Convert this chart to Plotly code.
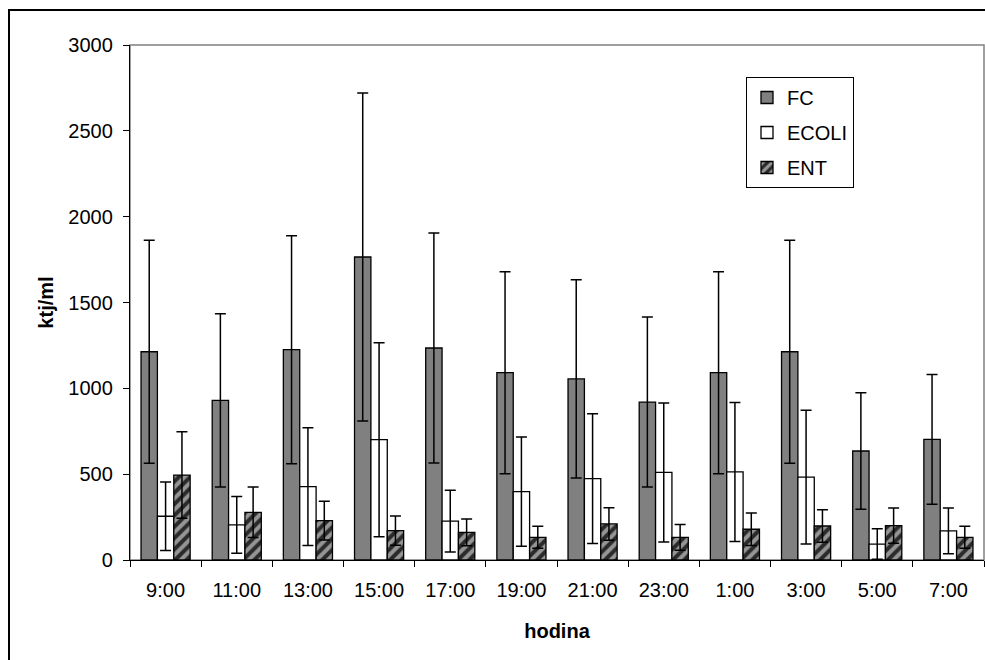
import plotly.graph_objects as go

# Sampling times and mean counts (ktj/ml) with standard deviations
hours = ["9:00", "11:00", "13:00", "15:00", "17:00", "19:00",
         "21:00", "23:00", "1:00", "3:00", "5:00", "7:00"]

fc = [1213, 930, 1225, 1765, 1235, 1091, 1055, 920, 1091, 1213, 635, 703]
fc_err = [650, 505, 664, 955, 670, 588, 578, 495, 588, 650, 340, 378]

ecoli = [255, 205, 427, 701, 227, 398, 474, 510, 513, 483, 93, 170]
ecoli_err = [200, 165, 343, 565, 180, 318, 378, 405, 405, 390, 89, 133]

ent = [495, 278, 229, 171, 161, 132, 210, 132, 179, 198, 200, 132]
ent_err = [252, 147, 113, 85, 78, 64, 95, 75, 95, 95, 103, 64]

FONT = "Arial, Liberation Sans, sans-serif"
W, H = 985, 660
L, R, T, B = 130, 1, 45, 100
pw, ph = W - L - R, H - T - B


def px_x(p):
    return (p - L) / pw


def px_y(p):
    return (H - B - p) / ph


def err(vals):
    return dict(type="data", array=vals, visible=True, color="black",
                thickness=1.5, width=5.5)


fig = go.Figure()
fig.add_trace(go.Bar(
    name="FC", x=hours, y=fc, error_y=err(fc_err), legendgroup="fc",
    marker=dict(color="#808080", line=dict(color="black", width=1.3)),
))
fig.add_trace(go.Bar(
    name="ECOLI", x=hours, y=ecoli, error_y=err(ecoli_err), legendgroup="ecoli",
    marker=dict(color="white", line=dict(color="black", width=1.3)),
))
fig.add_trace(go.Bar(
    name="ENT", x=hours, y=ent, error_y=err(ent_err), legendgroup="ent",
    marker=dict(color="#2a2a2a", line=dict(color="black", width=1.3),
                pattern=dict(shape="/", fgcolor="white", bgcolor="#2a2a2a",
                             size=8, solidity=0.5)),
))

fig.update_layout(
    width=W, height=H,
    margin=dict(l=L, r=R, t=T, b=B, autoexpand=False),
    paper_bgcolor="white", plot_bgcolor="white",
    font=dict(family=FONT, size=20, color="black"),
    barmode="group", bargap=0.31, bargroupgap=0,
    showlegend=True,
    legend=dict(
        x=px_x(746), y=px_y(77), xanchor="left", yanchor="top",
        bordercolor="black", borderwidth=1, bgcolor="white",
        font=dict(family=FONT, size=20, color="black"),
        tracegroupgap=6, traceorder="grouped",
    ),
    xaxis=dict(
        showline=True, linecolor="black", linewidth=1.3,
        ticks="outside", ticklen=6, tickcolor="black", tickwidth=1.2,
        tickson="boundaries", showgrid=False, ticklabelstandoff=12,
        title=dict(text="<b>hodina</b>", font=dict(family=FONT, size=20),
                   standoff=23),
    ),
    yaxis=dict(
        range=[0, 3000], dtick=500, showline=True, linecolor="black",
        linewidth=1.3, ticks="outside", ticklen=6, tickcolor="black",
        tickwidth=1.2, showgrid=False, zeroline=False, ticklabelstandoff=6,
        title=dict(text="<b>ktj/ml</b>", font=dict(family=FONT, size=20),
                   standoff=9),
    ),
    shapes=[
        # plot area frame
        dict(type="rect", xref="paper", yref="paper", x0=0, x1=1, y0=0, y1=1,
             line=dict(color="#808080", width=1.5), layer="below"),
        # chart area frame
        dict(type="rect", xref="paper", yref="paper",
             x0=px_x(9), x1=px_x(995), y0=px_y(670), y1=px_y(10),
             line=dict(color="black", width=2), layer="below"),
    ],
)

fig.write_html("out.html")
